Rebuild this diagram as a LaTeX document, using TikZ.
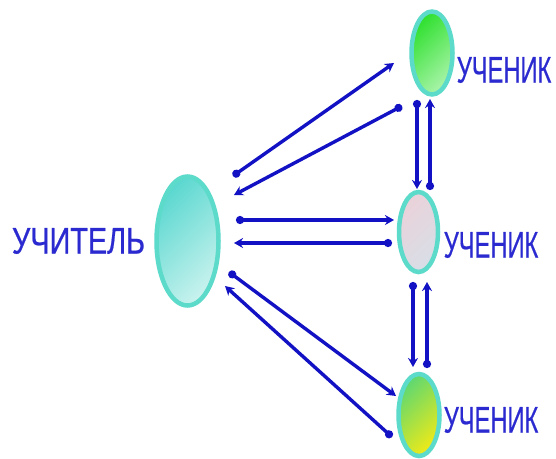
\documentclass[tikz,border=0pt]{standalone}
\usepackage{fontspec}
\usepackage{graphicx}
\setmainfont{Liberation Sans}
\newfontfamily\lblfont[FakeBold=0.6]{Liberation Sans}
\usetikzlibrary{shapes.geometric,arrows.meta}
\definecolor{rim}{HTML}{5CDACA}
\definecolor{ink}{HTML}{2A2AD0}
\definecolor{arr}{HTML}{1212C4}
\definecolor{tA}{HTML}{5CD8D0}
\definecolor{tB}{HTML}{C8F2EE}
\definecolor{gA}{HTML}{30E030}
\definecolor{gB}{HTML}{A8F4A8}
\definecolor{pA}{HTML}{EAD2DA}
\definecolor{pB}{HTML}{D8DEE6}
\definecolor{yA}{HTML}{60D870}
\definecolor{yB}{HTML}{EEEA18}
\tikzset{
  person/.style={ellipse, draw=rim, line width=4.5pt, inner sep=0pt},
  lbl/.style={text=ink, font=\lblfont\fontsize{37}{37}\selectfont, inner sep=0pt},
  link/.style={draw=arr, line width=3.4pt, {Circle[length=8pt]}-{Stealth[length=9pt,width=10pt]}}
}
\begin{document}
\begin{tikzpicture}[x=1pt,y=-1pt]
\useasboundingbox (0,0) rectangle (556,458);
\fill[white] (0,0) rectangle (556,458);
\node[person, minimum width=62pt, minimum height=129pt, top color=tA, bottom color=tB, shading angle=45] (T) at (187.5,241) {};
\node[person, minimum width=41pt, minimum height=83pt, top color=gA, bottom color=gB, shading angle=45] (S1) at (432,53) {};
\node[person, minimum width=39pt, minimum height=80pt, top color=pA, bottom color=pB, shading angle=45] (S2) at (418.5,232) {};
\node[person, minimum width=41pt, minimum height=82pt, top color=yA, bottom color=yB, shading angle=45] (S3) at (419,415) {};
\node[lbl] (LT) at (78.5,241) {\scalebox{0.78}[1]{УЧИТЕЛЬ}};
\node[lbl] (L1) at (504,70) {\scalebox{0.64}[1]{УЧЕНИК}};
\node[lbl] (L2) at (491,245) {\scalebox{0.64}[1]{УЧЕНИК}};
\node[lbl] (L3) at (491,420) {\scalebox{0.64}[1]{УЧЕНИК}};
% end points
\coordinate (a1) at (233,176); \coordinate (b1) at (394,63);
\coordinate (a2) at (402,106); \coordinate (b2) at (234,195);
\coordinate (a3) at (417,100); \coordinate (b3) at (417,189);
\coordinate (a4) at (430,190); \coordinate (b4) at (430,99);
\coordinate (a5) at (236,220); \coordinate (b5) at (394,220);
\coordinate (a6) at (392,243); \coordinate (b6) at (234,243);
\coordinate (a7) at (413,282); \coordinate (b7) at (413,367);
\coordinate (a8) at (427,368); \coordinate (b8) at (427,282);
\coordinate (a9) at (229,272); \coordinate (b9) at (396,396);
\coordinate (a10) at (392,437); \coordinate (b10) at (225,286);
\foreach \i in {1,...,10} {\draw[link] (a\i) -- (b\i);}
\end{tikzpicture}
\end{document}
